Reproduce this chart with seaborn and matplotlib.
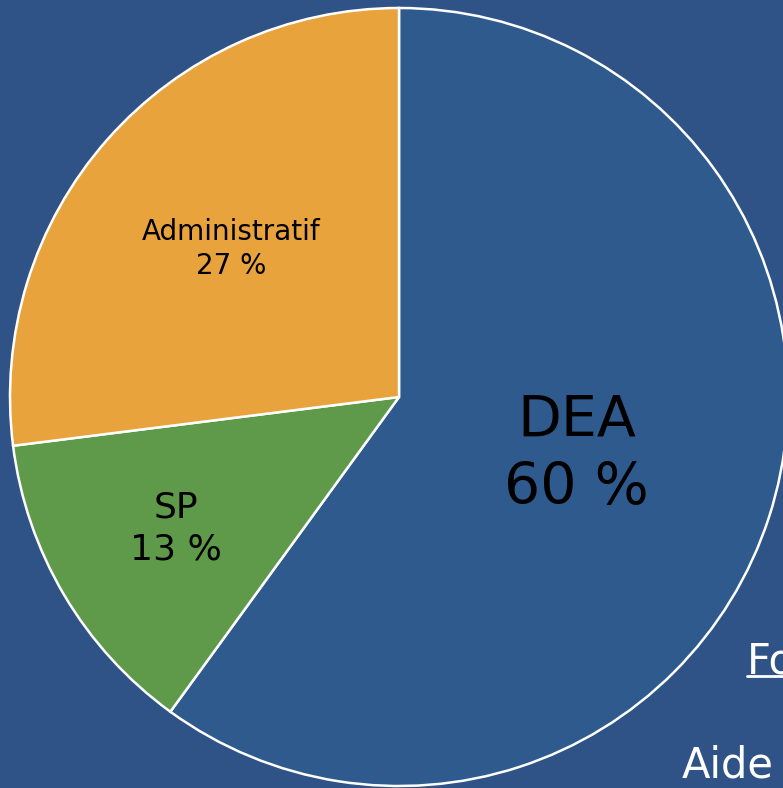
import matplotlib
matplotlib.use('Agg')
import matplotlib.pyplot as plt
from matplotlib.lines import Line2D
import seaborn as sns
import numpy as np

# Data
categories = ['DEA', 'SP', 'Administratif']
shares = [60, 13, 27]
label_sizes = [41, 26, 20]
label_radius = [0.48, 0.665, 0.575]

sns.set_style('white')
plt.rcParams['font.family'] = ['DejaVu Sans']

bg = '#2f5386'
colors = sns.color_palette(['#2f5a8e', '#5f9a4a', '#e8a33d'])

fig = plt.figure(figsize=(7.83, 7.88), dpi=100, facecolor=bg)
ax = fig.add_axes([0, 0, 1, 1])
ax.set_facecolor(bg)

wedges, _ = ax.pie(shares, colors=colors, startangle=90, counterclock=False,
                   radius=1.0, wedgeprops=dict(edgecolor='white', linewidth=1.8))

# Labels at the middle of each wedge
for w, cat, val, fs, r in zip(wedges, categories, shares, label_sizes, label_radius):
    mid = np.deg2rad((w.theta1 + w.theta2) / 2)
    ax.text(r * np.cos(mid), r * np.sin(mid), f'{cat}\n{val} %',
            ha='center', va='center', fontsize=fs, color='black', linespacing=1.3)

# The chart is cropped from a slide: keep the same framing
ax.set_xlim(-399 / 389, (783 - 399) / 389)
ax.set_ylim(-(788 - 397) / 389, 397 / 389)
ax.set_aspect('auto')
ax.axis('off')

# Slide text partly visible at the right edge
fig.text(747 / 783, 1 - 673 / 788, 'Fo', color='white', fontsize=30, ha='left', va='baseline')
fig.add_artist(Line2D([747 / 783, 1.0], [1 - 676 / 788, 1 - 676 / 788],
                      transform=fig.transFigure, color='white', linewidth=2))
fig.text(682 / 783, 1 - 777 / 788, 'Aide', color='white', fontsize=30, ha='left', va='baseline')

fig.savefig('out.png', dpi=100, facecolor=bg)
